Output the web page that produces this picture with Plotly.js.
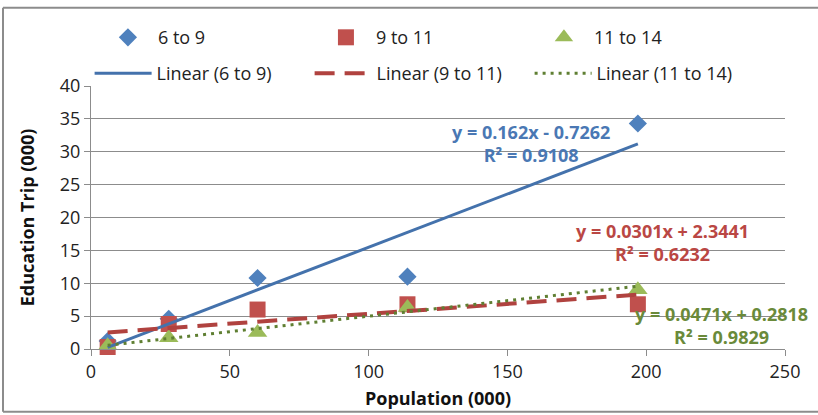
<!DOCTYPE html>
<html>
<head>
<meta charset="utf-8">
<script src="https://cdn.plot.ly/plotly-3.0.1.min.js"></script>
<style>
html,body{margin:0;padding:0;background:#fff;}
#chart{width:818px;height:415px;}
</style>
</head>
<body>
<div id="chart"></div>
<script>
// Data
const population = [6, 28, 60, 114, 197];
const trips6to9 = [1.2, 4.6, 10.8, 11.0, 34.3];
const trips9to11 = [0.3, 3.8, 6.0, 6.8, 6.8];
const trips11to14 = [0.5, 1.7, 2.5, 6.3, 9.0];

const seriesNames = ['6 to 9', '9 to 11', '11 to 14'];
// Trendline coefficients shown on the chart
const slopes = [0.162, 0.0301, 0.0471];
const intercepts = [-0.7262, 2.3441, 0.2818];
const r2 = ['0.9108', '0.6232', '0.9829'];
const eqLabels = ['y = 0.162x - 0.7262', 'y = 0.0301x + 2.3441', 'y = 0.0471x + 0.2818'];

const markerColors = ['#4F81BD', '#C0504D', '#9BBB59'];
const lineColors = ['#4472AC', '#B0423F', '#5F7F32'];
const textColors = ['#4A78B4', '#BA4744', '#6A8A3A'];
const symbols = ['diamond', 'square', 'triangle-up'];
const markerSizes = [14, 16, 17];
const dashes = ['solid', '20px,10px', '3px,5px'];
const allY = [trips6to9, trips9to11, trips11to14];

const FONT = '"Open Sans", Lato, sans-serif';

const traces = [];
for (let i = 0; i < 3; i++) {
  traces.push({
    type: 'scatter', mode: 'markers', name: seriesNames[i],
    x: population, y: allY[i],
    marker: {symbol: symbols[i], size: markerSizes[i], color: markerColors[i]},
    legend: 'legend', cliponaxis: false
  });
}
const xMin = Math.min(...population), xMax = Math.max(...population);
for (let i = 0; i < 3; i++) {
  traces.push({
    type: 'scatter', mode: 'lines', name: 'Linear (' + seriesNames[i] + ')',
    x: [xMin, xMax],
    y: [slopes[i] * xMin + intercepts[i], slopes[i] * xMax + intercepts[i]],
    line: {color: lineColors[i], width: i === 1 ? 4 : 3, dash: dashes[i]},
    legend: 'legend2'
  });
}

const annPos = [[158.5, 31.2], [206, 16.2], [227.3, 3.6]];
const annotations = [];
for (let i = 0; i < 3; i++) {
  annotations.push({
    x: annPos[i][0], y: annPos[i][1], xref: 'x', yref: 'y',
    text: '<b>' + eqLabels[i] + '<br>R² = ' + r2[i] + '</b>',
    showarrow: false, align: 'center',
    font: {family: FONT, size: 18, color: textColors[i]}
  });
}

const legendCommon = {
  orientation: 'h', entrywidthmode: 'pixels',
  xanchor: 'left', yanchor: 'middle', bgcolor: 'rgba(0,0,0,0)',
  font: {family: FONT, size: 18, color: '#222'}
};

const borderColor = '#8c8c8c';
const layout = {
  width: 818, height: 415,
  margin: {l: 91, r: 33, t: 86, b: 66},
  paper_bgcolor: '#fff', plot_bgcolor: '#fff',
  font: {family: FONT, size: 18, color: '#222'},
  xaxis: {
    range: [0, 250], dtick: 50, tick0: 0,
    showgrid: false, zeroline: false,
    showline: true, linecolor: '#8c8c8c', linewidth: 1,
    ticks: 'outside', ticklen: 6, tickcolor: '#8c8c8c',
    tickfont: {family: FONT, size: 18, color: '#222'},
    title: {text: '<b>Population (000)</b>', font: {family: FONT, size: 18, color: '#111'}, standoff: 10}
  },
  yaxis: {
    range: [0, 40], dtick: 5, tick0: 0,
    showgrid: true, gridcolor: '#8c8c8c', gridwidth: 1,
    zeroline: false,
    showline: true, linecolor: '#8c8c8c', linewidth: 1,
    ticks: 'outside', ticklen: 6, tickcolor: '#8c8c8c',
    tickfont: {family: FONT, size: 18, color: '#222'},
    title: {text: '<b>Education Trip (000)</b>', font: {family: FONT, size: 18, color: '#111'}, standoff: 20}
  },
  legend: Object.assign({x: 0.01, y: 1.184, itemwidth: 50, entrywidth: 153}, legendCommon),
  legend2: Object.assign({x: -0.002, y: 1.047, itemwidth: 57, entrywidth: 148}, legendCommon),
  annotations: annotations,
  shapes: [
    {type: 'line', xref: 'paper', yref: 'paper', x0: -0.1268, x1: 1.08, y0: 1.298, y1: 1.298, line: {color: borderColor, width: 2}},
    {type: 'line', xref: 'paper', yref: 'paper', x0: -0.1268, x1: -0.1268, y0: -0.239, y1: 1.298, line: {color: borderColor, width: 2}},
    {type: 'line', xref: 'paper', yref: 'paper', x0: -0.1268, x1: 1.08, y0: -0.239, y1: -0.239, line: {color: borderColor, width: 2}}
  ]
};

Plotly.newPlot('chart', traces, layout, {displayModeBar: false, staticPlot: true});
</script>
</body>
</html>
